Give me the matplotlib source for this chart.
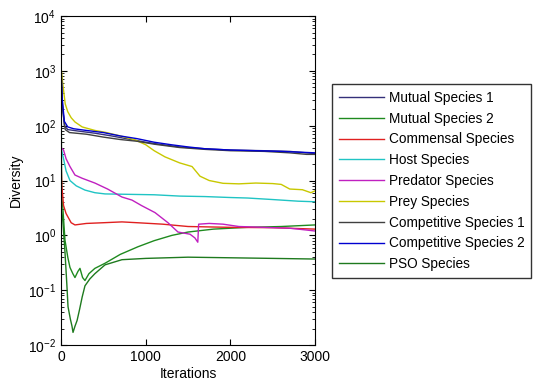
import matplotlib.pyplot as plt

plt.rcParams['font.family'] = ['Liberation Sans', 'DejaVu Sans']
plt.rcParams['mathtext.fontset'] = 'custom'
plt.rcParams['mathtext.rm'] = 'Liberation Sans'

# (iteration, diversity) waypoints for each species
mutual1_it = [0, 15, 40, 80, 200, 400, 600, 800, 1000, 1200, 1400, 1700, 2000, 2400, 2700, 3000]
mutual1 = [1200, 250, 100, 85, 80, 73, 65, 57, 50, 45, 41, 38, 36, 35, 34, 31]

mutual2_it = [0, 8, 20, 47, 80, 106, 140, 165, 200, 224, 255, 283, 330, 400, 520, 700,
              909, 1100, 1310, 1500, 1800, 2196, 2600, 3000]
mutual2 = [2000, 5, 3.5, 0.82, 0.4, 0.26, 0.2, 0.17, 0.22, 0.25, 0.17, 0.15, 0.2, 0.25, 0.31, 0.45,
           0.62, 0.8, 1.0, 1.15, 1.3, 1.4, 1.45, 1.55]

commensal_it = [0, 10, 30, 60, 120, 165, 300, 500, 720, 900, 1200, 1500, 2000, 2500, 3000]
commensal = [25, 8, 3.5, 2.5, 1.7, 1.55, 1.65, 1.7, 1.76, 1.7, 1.6, 1.45, 1.4, 1.38, 1.3]

host_it = [0, 30, 60, 106, 180, 283, 400, 520, 800, 1100, 1405, 1700, 2000, 2200, 2500, 2800, 3000]
host = [40, 25, 15, 10, 8, 6.7, 6, 5.7, 5.6, 5.5, 5.2, 5.1, 4.9, 4.8, 4.5, 4.2, 4.1]

predator_it = [0, 30, 60, 106, 165, 250, 400, 550, 720, 838, 950, 1110, 1263, 1381, 1450, 1523,
               1580, 1615, 1625, 1750, 1913, 2100, 2400, 2700, 2900, 3000]
predator = [40, 36, 25, 18, 12.6, 11, 9, 7, 5, 4.4, 3.5, 2.6, 1.7, 1.15, 1.1, 1.05,
            0.9, 0.75, 1.6, 1.65, 1.6, 1.45, 1.4, 1.35, 1.25, 1.2]

prey_it = [0, 20, 50, 80, 120, 165, 250, 400, 520, 700, 874, 1000, 1100, 1228, 1400, 1547,
           1641, 1750, 1913, 2100, 2300, 2500, 2600, 2700, 2850, 2950, 3000]
prey = [1200, 600, 250, 180, 140, 117, 95, 82, 76, 65, 55, 45, 35, 27, 21, 18,
        12, 10, 8.9, 8.7, 9.0, 8.8, 8.5, 7.0, 6.8, 6.0, 6.5]

comp1_it = [0, 20, 50, 100, 300, 500, 700, 900, 1100, 1400, 1700, 2000, 2400, 2700, 2900, 3000]
comp1 = [1500, 200, 85, 75, 70, 62, 56, 52, 46, 40, 37, 35, 34, 32, 30, 30]

comp2_it = [0, 15, 40, 80, 150, 300, 500, 700, 900, 1100, 1300, 1500, 1700, 2000, 2300, 2600, 2800, 3000]
comp2 = [1000, 300, 120, 95, 88, 82, 75, 65, 58, 50, 45, 41, 38, 36, 35, 34, 33, 32]

pso_it = [0, 20, 47, 70, 83, 110, 130, 142, 165, 190, 220, 250, 283, 340, 400, 520,
          720, 1000, 1500, 2000, 2500, 3000]
pso = [3.5, 2, 0.5, 0.12, 0.05, 0.03, 0.022, 0.017, 0.022, 0.028, 0.045, 0.075, 0.12, 0.16, 0.2, 0.29,
       0.36, 0.38, 0.4, 0.39, 0.38, 0.37]

series = [
    ("Mutual Species 1", mutual1_it, mutual1, "#34307a"),
    ("Mutual Species 2", mutual2_it, mutual2, "#1f8a1f"),
    ("Commensal Species", commensal_it, commensal, "#e02020"),
    ("Host Species", host_it, host, "#20c4c4"),
    ("Predator Species", predator_it, predator, "#c020c0"),
    ("Prey Species", prey_it, prey, "#c8c800"),
    ("Competitive Species 1", comp1_it, comp1, "#404040"),
    ("Competitive Species 2", comp2_it, comp2, "#0000d0"),
    ("PSO Species", pso_it, pso, "#1e7a1e"),
]

fig = plt.figure(figsize=(5.35, 3.87), dpi=100)
ax = fig.add_axes([0.114, 0.1085, 0.475, 0.850])

for name, it, vals, color in series:
    ax.plot(it, vals, color=color, lw=1.0, label=name)

ax.set_yscale('log')
ax.set_xlim(0, 3000)
ax.set_ylim(1e-2, 1e4)
ax.set_xticks([0, 1000, 2000, 3000])
ax.tick_params(which='both', direction='in', top=True, right=True, labelsize=10)
ax.tick_params(which='major', length=4)
ax.tick_params(which='minor', length=2)
ax.set_xlabel("Iterations", fontsize=10, labelpad=2)
ax.set_ylabel("Diversity", fontsize=10, labelpad=4)

fig.legend(loc='upper left', bbox_to_anchor=(332 / 535, 1 - 84 / 387), fontsize=9.8,
           frameon=True, fancybox=False, edgecolor='black', handlelength=3.3,
           labelspacing=0.5, borderpad=0.5, handletextpad=0.36, borderaxespad=0)

fig.savefig("out.png", dpi=100)
